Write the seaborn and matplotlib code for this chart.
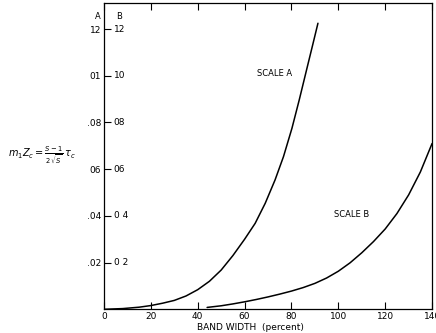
import numpy as np
import pandas as pd
import matplotlib
matplotlib.use("Agg")
import matplotlib.pyplot as plt
import seaborn as sns

# curve values (scale A units for curve A, scale B units for curve B)
band_a = [0, 8, 15, 20, 25, 30, 35, 40, 45, 50, 55, 60, 64.5, 68.8, 73,
          76.6, 80.2, 83.3, 86.8, 89, 91.3]
val_a = [0, 0.0003, 0.0009, 0.0016, 0.0026, 0.0038, 0.0057, 0.0084, 0.0120,
         0.0168, 0.0230, 0.0300, 0.0368, 0.0454, 0.0554, 0.0654, 0.0775,
         0.0896, 0.104, 0.113, 0.1225]

band_b = [44, 50, 55, 60, 65, 70, 75, 80, 85, 90, 95, 100, 105, 110, 115,
          120, 125, 130, 135, 140]
val_b = [0.008, 0.015, 0.023, 0.032, 0.042, 0.053, 0.065, 0.078, 0.093, 0.111,
         0.134, 0.163, 0.199, 0.242, 0.290, 0.344, 0.410, 0.490, 0.588, 0.710]

x_ticks = [0, 20, 40, 60, 80, 100, 120, 140]
y_ticks = [0.02, 0.04, 0.06, 0.08, 0.10, 0.12]
a_labels = [".02", ".04", "06", ".08", "01", "12"]
b_labels = ["0 2", "0 4", "06", "08", "10", "12"]

df_a = pd.DataFrame({"band": band_a, "val": val_a})
df_b = pd.DataFrame({"band": band_b, "val": np.array(val_b) / 10})  # scale B is 10x scale A

sns.set_theme(style="white")
plt.rcParams['font.family'] = ['DejaVu Sans']
plt.rcParams['text.color'] = 'black'

fig = plt.figure(figsize=(4.36, 3.33), dpi=100)
ax = fig.add_axes([0.2385, 0.0712, 0.7525, 0.92])

sns.lineplot(data=df_a, x="band", y="val", color="black", lw=1.1, ax=ax)
sns.lineplot(data=df_b, x="band", y="val", color="black", lw=1.1, ax=ax)

ax.set_xlim(0, 140)
ax.set_ylim(0, 0.1312)
for s in ax.spines.values():
    s.set_color("black")
    s.set_linewidth(0.9)

ax.set_xticks(x_ticks)
ax.set_xticklabels([str(t) for t in x_ticks])
ax.set_yticks(y_ticks)
ax.set_yticklabels(a_labels)
ax.tick_params(axis="x", direction="in", length=5, width=0.8, top=True, bottom=True,
               labelsize=6.5, pad=2, color="black", labelcolor="black")
ax.tick_params(axis="y", direction="in", length=5, width=0.8, left=True,
               labelsize=6.5, pad=2, color="black", labelcolor="black")

# scale B labels sit inside the frame next to the ticks
ytr = ax.get_yaxis_transform()
for y, lab in zip(y_ticks, b_labels):
    ax.text(0.03, y, lab, transform=ytr, ha="left", va="center", fontsize=6.5)
ax.text(-0.02, 0.1255, "A", transform=ytr, ha="center", va="center", fontsize=6)
ax.text(0.045, 0.1255, "B", transform=ytr, ha="center", va="center", fontsize=6)

ax.set_xlabel("BAND WIDTH  (percent)", fontsize=6.5, labelpad=1, color="black")
ax.xaxis.set_label_coords(0.445, -0.045)
ax.set_ylabel("")

ax.text(73, 0.101, "SCALE A", ha="center", va="center", fontsize=6)
ax.text(105.5, 0.0408, "SCALE B", ha="center", va="center", fontsize=6)

fig.text(0.096, 0.535, r"$m_1 Z_c = \frac{S-1}{2\sqrt{S}}\,\tau_c$",
         ha="center", va="center", fontsize=7)

plt.savefig("out.png", dpi=100)
